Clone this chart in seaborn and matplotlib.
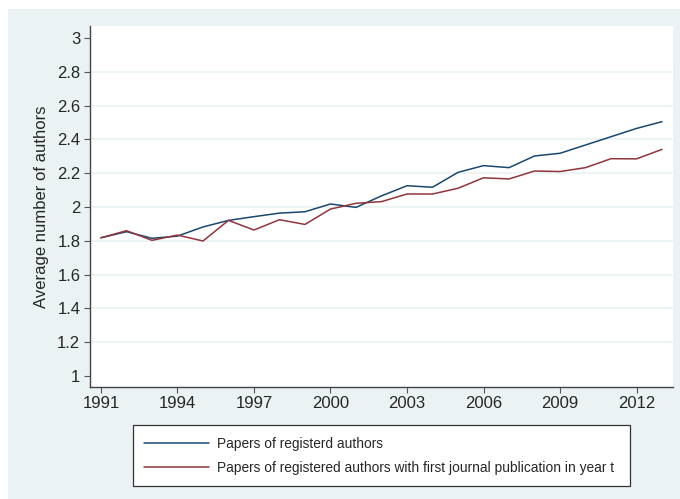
import pandas as pd
import seaborn as sns
import matplotlib.pyplot as plt
from matplotlib.patches import Rectangle

years = list(range(1991, 2014))
registered = [1.818, 1.854, 1.815, 1.828, 1.882, 1.921, 1.943, 1.964, 1.972, 2.018,
              1.998, 2.066, 2.126, 2.117, 2.205, 2.245, 2.233, 2.302, 2.318, 2.367,
              2.416, 2.465, 2.505]
first_pub = [1.818, 1.860, 1.803, 1.834, 1.799, 1.921, 1.864, 1.925, 1.897, 1.988,
             2.022, 2.032, 2.077, 2.077, 2.111, 2.173, 2.166, 2.213, 2.210, 2.233,
             2.286, 2.285, 2.341]
labels = ['Papers of registerd authors',
          'Papers of registered authors with first journal publication in year t']
xticks = list(range(1991, 2013, 3))
yticks = [1, 1.2, 1.4, 1.6, 1.8, 2, 2.2, 2.4, 2.6, 2.8, 3]

df = pd.DataFrame({'year': years * 2,
                   'value': registered + first_pub,
                   'series': [labels[0]] * len(years) + [labels[1]] * len(years)})

sns.set_style('white')
plt.rcParams['font.family'] = ['Liberation Sans', 'DejaVu Sans']

bg = '#EAF2F3'
fig = plt.figure(figsize=(6.8, 4.99), dpi=100)
# stata-like light blue outer region
fig.patches.append(Rectangle((8 / 680, 0), 1, 1 - 9 / 499, transform=fig.transFigure,
                             facecolor=bg, edgecolor='none', zorder=-5))
ax = fig.add_axes([90 / 680, 1 - 386.7 / 499, 583 / 680, 360.7 / 499])
ax.set_zorder(1)
ax.set_facecolor('white')

sns.lineplot(data=df, x='year', y='value', hue='series',
             palette=['#1A476F', '#90353B'], linewidth=1.1, ax=ax, legend=False)

ax.set_xlim(1990.57, 2013.43)
ax.set_ylim(0.937, 3.071)
ax.set_xticks(xticks)
ax.set_xticklabels([str(x) for x in xticks])
ax.set_yticks(yticks)
ax.set_yticklabels(['1', '1.2', '1.4', '1.6', '1.8', '2', '2.2', '2.4', '2.6', '2.8', '3'])
ax.tick_params(axis='both', labelsize=12, length=4, width=0.8, color='#555555',
               direction='out', left=True, bottom=True, pad=3)
ax.set_xlabel('')
ax.set_ylabel('Average number of authors', fontsize=12, labelpad=6)

ax.grid(axis='y', color=bg, linewidth=1.2)
gl = ax.yaxis.get_gridlines()
gl[0].set_visible(False)
gl[-1].set_visible(False)

for s in ['top', 'right']:
    ax.spines[s].set_visible(False)
for s in ['left', 'bottom']:
    ax.spines[s].set_color('#444444')
    ax.spines[s].set_linewidth(1.0)

handles = ax.get_lines()[:2]
leg = fig.legend(handles, labels, loc='upper left',
                 bbox_to_anchor=(132.7 / 680, 1 - 481 / 499, 497.3 / 680, 56 / 499),
                 mode='expand', fontsize=9.9, handlelength=4.7, handletextpad=0.6,
                 labelspacing=0.72, borderpad=0.85, fancybox=False,
                 edgecolor='#333333', framealpha=1, borderaxespad=0)
leg.get_frame().set_linewidth(0.9)
leg.set_zorder(2)
for ln in leg.get_lines():
    ln.set_linewidth(1.1)

fig.savefig('out.png', dpi=100, facecolor='white')
